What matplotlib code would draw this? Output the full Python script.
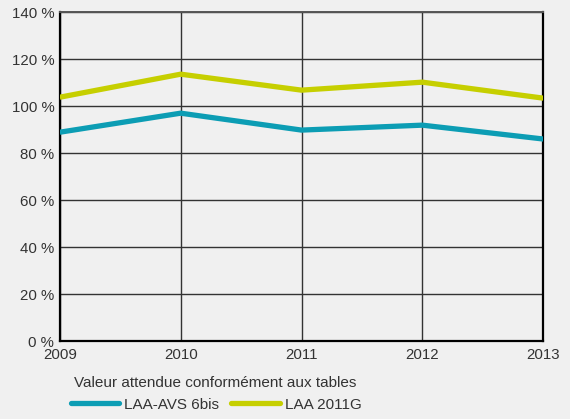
import matplotlib
matplotlib.use('Agg')
import matplotlib.pyplot as plt

plt.rcParams['font.family'] = ['Liberation Sans', 'DejaVu Sans']

years = [2009, 2010, 2011, 2012, 2013]
laa_avs = [88.9, 97.0, 89.8, 91.9, 86.0]
laa_2011g = [103.8, 113.6, 106.8, 110.2, 103.4]
yticks = [0, 20, 40, 60, 80, 100, 120, 140]

bg = '#f0f0f0'
fig = plt.figure(figsize=(5.7, 4.19), dpi=100, facecolor=bg)
ax = fig.add_axes([0.105, 0.186, 0.848, 0.785], facecolor=bg)

ax.plot(years, laa_avs, color='#0c9db4', lw=3.8, solid_capstyle='butt', label='LAA-AVS 6bis', zorder=3)
ax.plot(years, laa_2011g, color='#c6cf00', lw=3.8, solid_capstyle='butt', label='LAA 2011G', zorder=3)

ax.set_xlim(2009, 2013)
ax.set_ylim(0, 140)
ax.set_xticks(years)
ax.set_yticks(yticks)
ax.set_yticklabels([f'{v} %' for v in yticks])
ax.grid(True, color='#333333', lw=1.0)
ax.tick_params(length=0, labelsize=10.8, labelcolor='#333333')
ax.tick_params(axis='x', pad=5)
ax.tick_params(axis='y', pad=4)
for s in ['left', 'bottom', 'right']:
    ax.spines[s].set_color('black')
    ax.spines[s].set_linewidth(1.6)
ax.spines['top'].set_color('#555555')
ax.spines['top'].set_linewidth(1.4)

fig.text(0.378, 0.086, 'Valeur attendue conformément aux tables', ha='center', va='center',
         fontsize=11, color='#333333')
leg = fig.legend(loc='center', bbox_to_anchor=(0.379, 0.034), ncol=2, frameon=False,
                 fontsize=11, handlelength=3.2, handletextpad=0.3, columnspacing=0.8,
                 borderaxespad=0, borderpad=0, labelspacing=0)
for h in leg.get_lines():
    h.set_solid_capstyle('round')
    h.set_linewidth(3.8)
for t in leg.get_texts():
    t.set_color('#333333')

fig.savefig('out.png', dpi=100, facecolor=bg)
